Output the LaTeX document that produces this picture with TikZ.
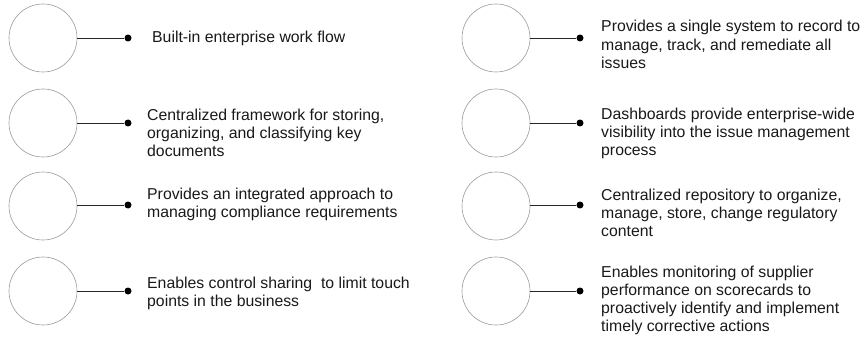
\documentclass[tikz,border=0pt]{standalone}
\usepackage{fontspec}
\setmainfont{Liberation Sans}
% stack of left-aligned lines whose baseline is that of the first line
\newcommand{\linestack}[1]{\vtop{\halign{##\hfil\cr#1\crcr}}}
\begin{document}
\begin{tikzpicture}[x=1pt,y=-1pt,
  ring/.style={circle,draw=gray!80,line width=0.6pt,minimum size=68pt,inner sep=0pt},
  pin/.style={circle,fill=black,minimum size=7pt,inner sep=0pt},
  link/.style={draw=black!85,line width=0.9pt},
  note/.style={anchor=base west,inner sep=0pt,text=black!90,
    font=\fontsize{15.8pt}{18.2pt}\selectfont}]
\useasboundingbox (0,0) rectangle (866,339);

% left column
\node[ring] (c1) at (43,38) {};
\node[ring] (c2) at (43,123) {};
\node[ring] (c3) at (43,206) {};
\node[ring] (c4) at (43,291) {};
\node[pin] (d1) at (128,38) {};
\node[pin] (d2) at (128,123) {};
\node[pin] (d3) at (128,205) {};
\node[pin] (d4) at (128,291) {};
\foreach \i in {1,...,4} \draw[link] (d\i) -- (d\i -| c\i.east);

\node[note] (t1) at (152,43) {Built-in enterprise work flow};
\node[note] (t2) at (147,120.5) {\linestack{Centralized framework for storing,\cr organizing, and classifying key\cr documents}};
\node[note] (t3) at (147,199) {\linestack{Provides an integrated approach to\cr managing compliance requirements}};
\node[note] (t4) at (147,288) {\linestack{Enables control sharing\ \ to limit touch\cr points in the business}};

% right column
\node[ring] (c5) at (496,38) {};
\node[ring] (c6) at (496,123) {};
\node[ring] (c7) at (496,206) {};
\node[ring] (c8) at (496,291) {};
\node[pin] (d5) at (580,38) {};
\node[pin] (d6) at (580,123) {};
\node[pin] (d7) at (580,205) {};
\node[pin] (d8) at (580,291) {};
\foreach \i in {5,...,8} \draw[link] (d\i) -- (d\i -| c\i.east);

\node[note] (t5) at (601,32) {\linestack{Provides a single system to record to\cr manage, track, and remediate all\cr issues}};
\node[note] (t6) at (601,119.5) {\linestack{Dashboards provide enterprise-wide\cr visibility into the issue management\cr process}};
\node[note] (t7) at (601,200) {\linestack{Centralized repository to organize,\cr manage, store, change regulatory\cr content}};
\node[note] (t8) at (601,277) {\linestack{Enables monitoring of supplier\cr performance on scorecards to\cr proactively identify and implement\cr timely corrective actions}};
\end{tikzpicture}
\end{document}
